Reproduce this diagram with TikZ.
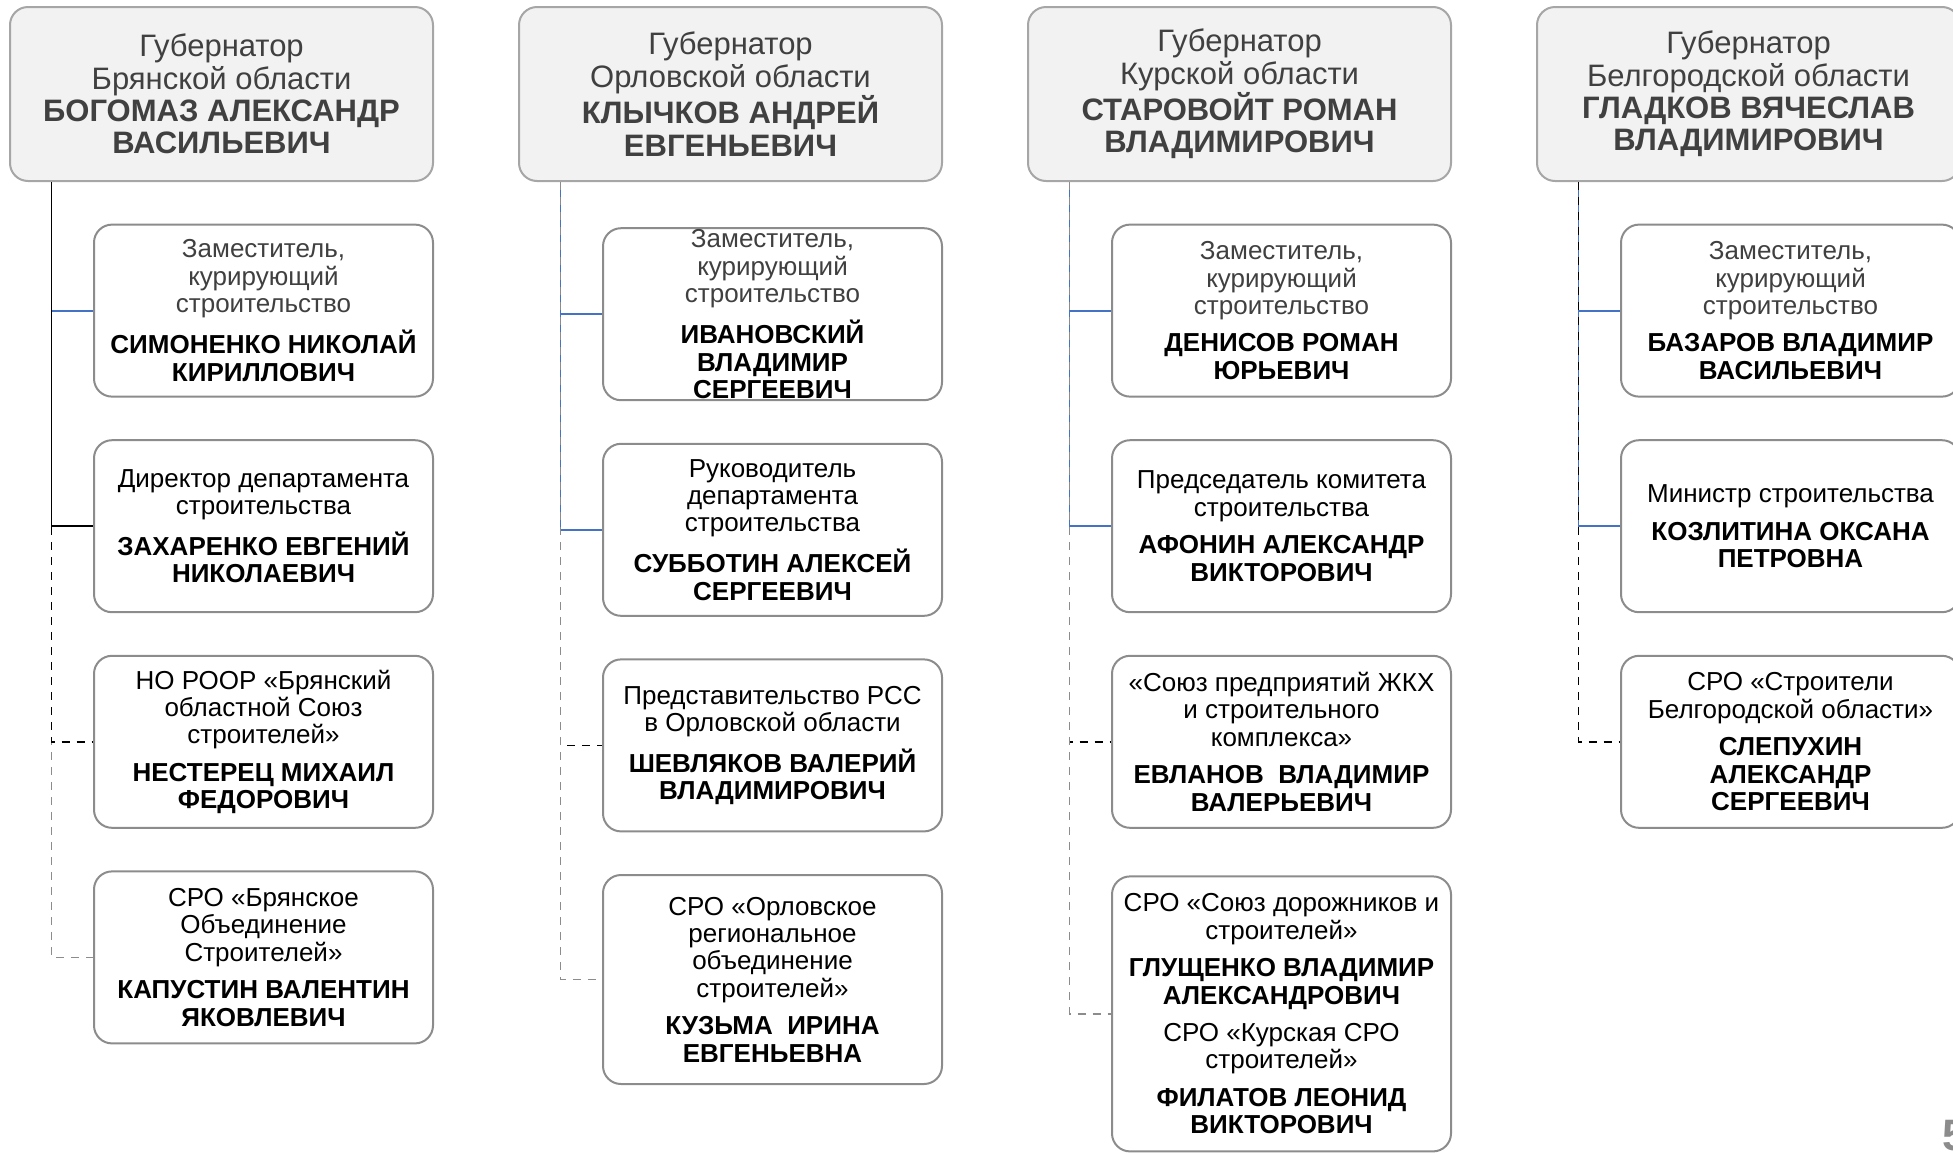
\documentclass[tikz,border=0pt]{standalone}
\usepackage{fontspec}
\setmainfont{Liberation Sans}
\usetikzlibrary{positioning}

\definecolor{headfill}{HTML}{F2F2F2}
\definecolor{headline}{HTML}{A6A6A6}
\definecolor{headtext}{HTML}{404040}
\definecolor{boxline}{HTML}{8C8C8C}
\definecolor{zamgray}{HTML}{404040}
\definecolor{linkblue}{HTML}{4472C4}
\definecolor{dashgray}{HTML}{8C8C8C}

\begin{document}
\begin{tikzpicture}[
    x=0.5pt, y=-0.5pt,
    node distance=20.8pt,
    govbox/.style={draw=headline, fill=headfill, line width=1pt, rounded corners=9pt,
      minimum width=211.5pt, minimum height=87pt, inner sep=0pt, align=center,
      text=headtext, font=\fontsize{15.5}{16.2}\selectfont},
    membox/.style={draw=boxline, fill=white, line width=1pt, rounded corners=9pt,
      minimum width=169.5pt, minimum height=86pt, inner sep=0pt, align=center,
      font=\fontsize{13}{13.7}\selectfont},
    firstbox/.style={membox, below=#1, anchor=north east},
    bluelink/.style={linkblue, line width=0.9pt},
    blacklink/.style={black, line width=0.9pt},
    dashlink/.style={black, line width=0.9pt, dash pattern=on 4pt off 3.5pt},
    graylink/.style={dashgray, line width=0.9pt, dash pattern=on 4pt off 3.5pt}
  ]
\useasboundingbox (0,0) rectangle (1953,1152);

% Governors
\node (gov1) [govbox] at (221.5,94) {Губернатор\\Брянской области\\\textbf{БОГОМАЗ АЛЕКСАНДР}\\\textbf{ВАСИЛЬЕВИЧ}};
\node (gov2) [govbox, right=42pt of gov1] {Губернатор\\Орловской области\\\textbf{КЛЫЧКОВ АНДРЕЙ}\\\textbf{ЕВГЕНЬЕВИЧ}};
\node (gov3) [govbox, right=42pt of gov2] {Губернатор\\Курской области\\\textbf{СТАРОВОЙТ РОМАН}\\\textbf{ВЛАДИМИРОВИЧ}};
\node (gov4) [govbox, right=42pt of gov3] {Губернатор\\Белгородской области\\\textbf{ГЛАДКОВ ВЯЧЕСЛАВ}\\\textbf{ВЛАДИМИРОВИЧ}};

% Bryansk column
\node (m11) [firstbox=20.8pt of gov1.south east] {\textcolor{zamgray}{Заместитель,}\\\textcolor{zamgray}{курирующий}\\\textcolor{zamgray}{строительство}\\[5pt]\textbf{СИМОНЕНКО НИКОЛАЙ}\\\textbf{КИРИЛЛОВИЧ}};
\node (m12) [membox, below=of m11] {Директор департамента\\строительства\\[5pt]\textbf{ЗАХАРЕНКО ЕВГЕНИЙ}\\\textbf{НИКОЛАЕВИЧ}};
\node (m13) [membox, below=of m12] {НО РООР «Брянский\\областной Союз\\строителей»\\[5pt]\textbf{НЕСТЕРЕЦ МИХАИЛ}\\\textbf{ФЕДОРОВИЧ}};
\node (m14) [membox, below=of m13] {СРО «Брянское\\Объединение\\Строителей»\\[5pt]\textbf{КАПУСТИН ВАЛЕНТИН}\\\textbf{ЯКОВЛЕВИЧ}};

% Orel column
\node (m21) [firstbox=22.6pt of gov2.south east] {\textcolor{zamgray}{Заместитель,}\\\textcolor{zamgray}{курирующий}\\\textcolor{zamgray}{строительство}\\[5pt]\textbf{ИВАНОВСКИЙ}\\\textbf{ВЛАДИМИР}\\\textbf{СЕРГЕЕВИЧ}};
\node (m22) [membox, below=of m21] {Руководитель\\департамента\\строительства\\[5pt]\textbf{СУББОТИН АЛЕКСЕЙ}\\\textbf{СЕРГЕЕВИЧ}};
\node (m23) [membox, below=of m22] {Представительство РСС\\в Орловской области\\[5pt]\textbf{ШЕВЛЯКОВ ВАЛЕРИЙ}\\\textbf{ВЛАДИМИРОВИЧ}};
\node (m24) [membox, below=of m23, minimum height=104.5pt] {СРО «Орловское\\региональное\\объединение\\строителей»\\[5pt]\textbf{КУЗЬМА\ \ ИРИНА}\\\textbf{ЕВГЕНЬЕВНА}};

% Kursk column
\node (m31) [firstbox=20.8pt of gov3.south east] {\textcolor{zamgray}{Заместитель,}\\\textcolor{zamgray}{курирующий}\\\textcolor{zamgray}{строительство}\\[5pt]\textbf{ДЕНИСОВ РОМАН}\\\textbf{ЮРЬЕВИЧ}};
\node (m32) [membox, below=of m31] {Председатель комитета\\строительства\\[5pt]\textbf{АФОНИН АЛЕКСАНДР}\\\textbf{ВИКТОРОВИЧ}};
\node (m33) [membox, below=of m32] {«Союз предприятий ЖКХ\\и строительного\\комплекса»\\[5pt]\textbf{ЕВЛАНОВ\ \ ВЛАДИМИР}\\\textbf{ВАЛЕРЬЕВИЧ}};
\node (m34) [membox, below=23.3pt of m33, minimum height=137.5pt] {СРО «Союз дорожников и\\строителей»\\[5pt]\textbf{ГЛУЩЕНКО ВЛАДИМИР}\\\textbf{АЛЕКСАНДРОВИЧ}\\[5pt]СРО «Курская СРО\\строителей»\\[5pt]\textbf{ФИЛАТОВ ЛЕОНИД}\\\textbf{ВИКТОРОВИЧ}};

% Belgorod column
\node (m41) [firstbox=20.8pt of gov4.south east] {\textcolor{zamgray}{Заместитель,}\\\textcolor{zamgray}{курирующий}\\\textcolor{zamgray}{строительство}\\[5pt]\textbf{БАЗАРОВ ВЛАДИМИР}\\\textbf{ВАСИЛЬЕВИЧ}};
\node (m42) [membox, below=of m41] {Министр строительства\\[5pt]\textbf{КОЗЛИТИНА ОКСАНА}\\\textbf{ПЕТРОВНА}};
\node (m43) [membox, below=of m42] {СРО «Строители\\Белгородской области»\\[5pt]\textbf{СЛЕПУХИН}\\\textbf{АЛЕКСАНДР}\\\textbf{СЕРГЕЕВИЧ}};

% Trunk points under each governor
\foreach \c in {1,2,3,4}
  \coordinate (t\c) at ([xshift=21.2pt]gov\c.south west);

% Connectors (order sets which line lies on top)
\foreach \c/\r/\s in {1/1/bluelink, 1/2/blacklink, 1/4/graylink, 1/3/dashlink,
                      2/3/dashlink, 2/1/bluelink, 2/2/bluelink, 2/4/graylink,
                      3/3/dashlink, 3/1/bluelink, 3/2/bluelink, 3/4/graylink,
                      4/1/bluelink, 4/2/bluelink, 4/3/dashlink}
  \draw[\s] (t\c) |- (m\c\r.west);

% Page number
\node (pagenum) [anchor=base west, inner sep=0pt, text=dashgray, font=\bfseries\fontsize{22}{22}\selectfont] at (1942,1150) {5};

\end{tikzpicture}
\end{document}
